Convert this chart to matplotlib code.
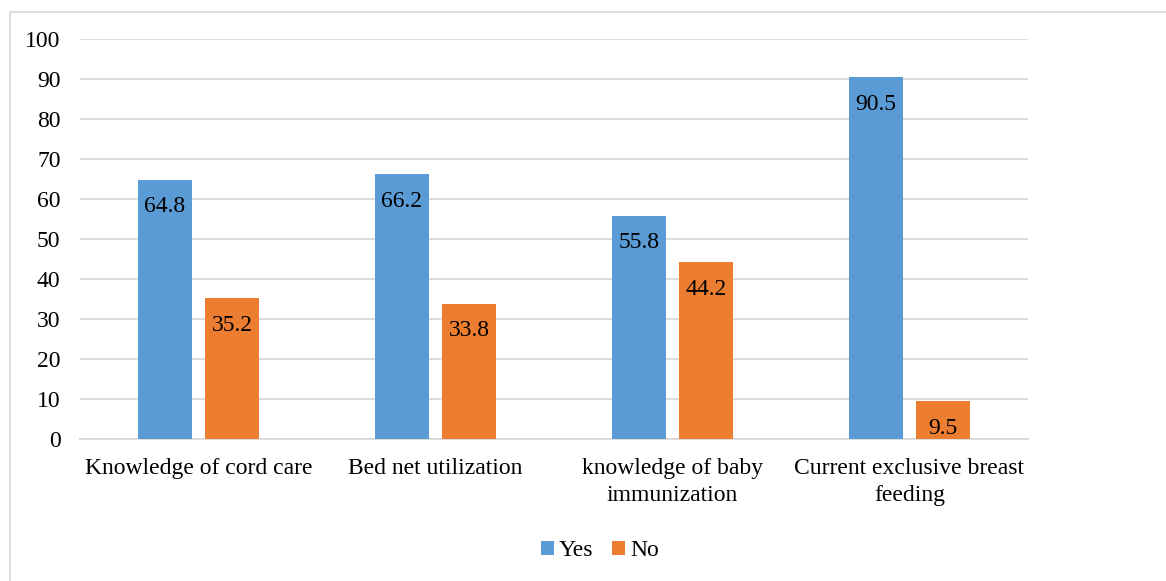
import numpy as np
import matplotlib.pyplot as plt
from matplotlib.patches import Rectangle

categories = ["Knowledge of cord care", "Bed net utilization",
              "knowledge of baby\nimmunization", "Current exclusive breast\nfeeding"]
yes_vals = [64.8, 66.2, 55.8, 90.5]
no_vals = [35.2, 33.8, 44.2, 9.5]

blue = "#5b9bd5"
orange = "#ed7d31"
grid_col = "#d9d9d9"

plt.rcParams['font.family'] = ['Liberation Serif', 'DejaVu Serif']
FS = 17

W, H = 1166, 581
fig = plt.figure(figsize=(W / 100, H / 100), dpi=100)
ax = fig.add_axes([80 / W, 1 - 439 / H, 948 / W, 400 / H])

x = np.arange(len(categories))
bw = 0.228
b1 = ax.bar(x - 0.142, yes_vals, bw, color=blue, label="Yes", zorder=3)
b2 = ax.bar(x + 0.142, no_vals, bw, color=orange, label="No", zorder=3)

for bars, vals in [(b1, yes_vals), (b2, no_vals)]:
    for r, v in zip(bars, vals):
        ax.annotate(f"{v}", (r.get_x() + r.get_width() / 2, v),
                    xytext=(0, -12), textcoords="offset points",
                    ha="center", va="top", fontsize=FS, color="black", zorder=4)

ax.set_xlim(-0.5, 3.5)
ax.set_ylim(0, 100)
ax.set_yticks(range(0, 101, 10))
ax.set_xticks(x)
ax.set_xticklabels(categories, fontsize=FS, linespacing=1.35)
ax.tick_params(axis='y', length=0, labelsize=FS, pad=14)
ax.tick_params(axis='x', length=0, pad=14)
ax.grid(axis='y', color=grid_col, linewidth=1.3, zorder=0)
for s in ["top", "right", "left"]:
    ax.spines[s].set_visible(False)
ax.spines["bottom"].set_color(grid_col)
ax.spines["bottom"].set_linewidth(1.3)

fig.legend(loc="center", bbox_to_anchor=(600 / W, 1 - 551 / H), ncol=2,
           frameon=False, fontsize=FS, handlelength=0.55, handleheight=0.55,
           handletextpad=0.2, columnspacing=0.8)

fig.patches.append(Rectangle((10 / W, -0.1), 1.2, 1.1 - 12 / H,
                             transform=fig.transFigure, fill=False,
                             edgecolor=grid_col, linewidth=1.3))

fig.savefig("out.png", dpi=100)
